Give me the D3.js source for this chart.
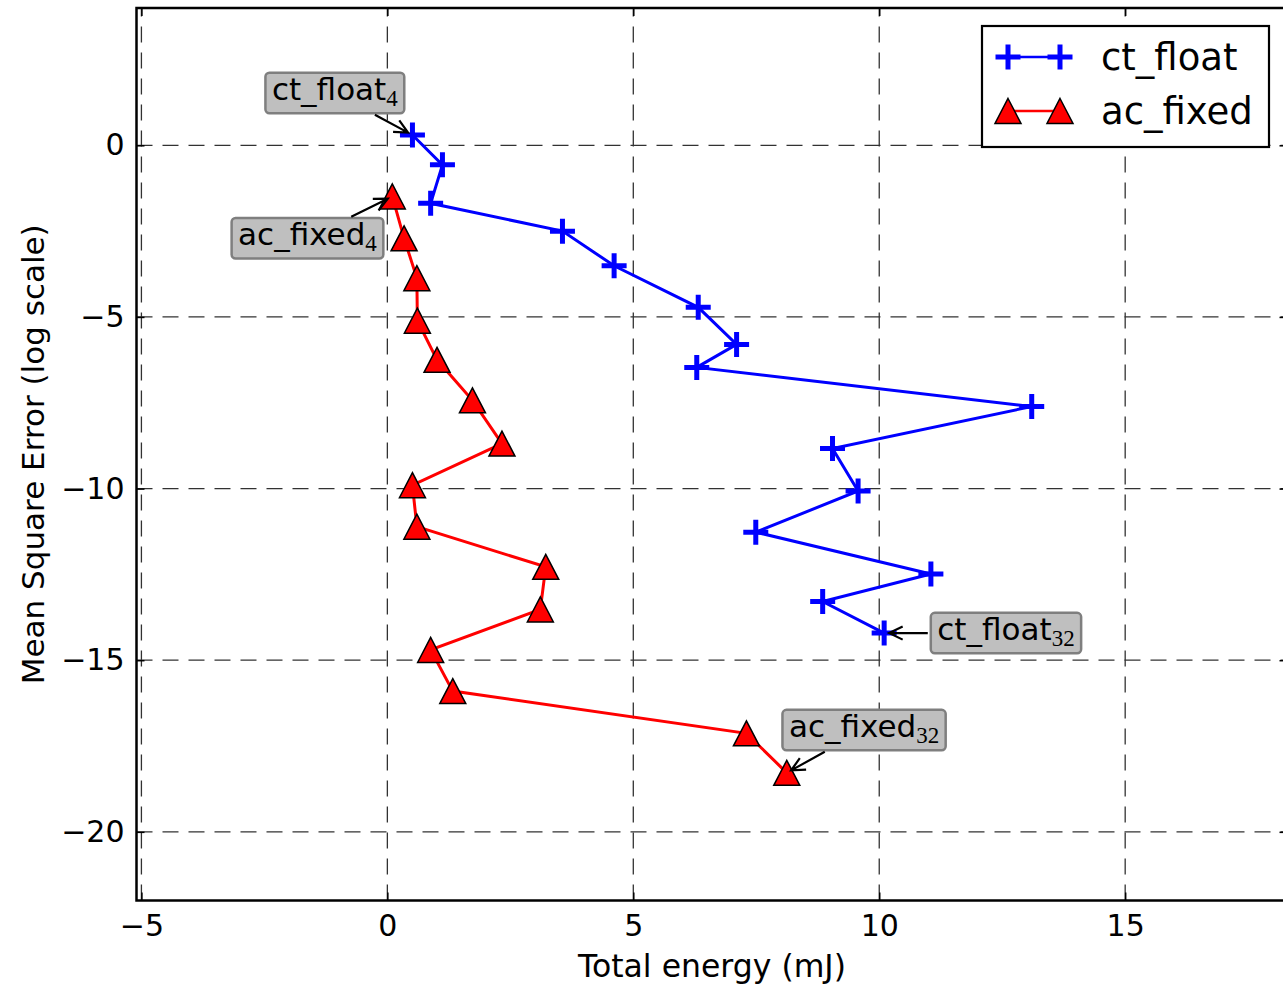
<!DOCTYPE html>
<html><head><meta charset="utf-8">
<script src="https://cdn.jsdelivr.net/npm/d3@7"></script>
<style>
html,body{margin:0;padding:0;background:#fff;}
svg{display:block;}
text{font-family:"DejaVu Sans",sans-serif;fill:#000;}
</style></head><body>
<svg id="chart" width="1283" height="986"></svg>
<script>
// Energy (mJ) versus log10 mean square error, word lengths 4..32
const ctFloatEnergy = [0.51, 1.12, 0.88, 3.56, 4.61, 6.32, 7.10, 6.29, 13.10, 9.05, 9.57, 7.49, 11.05, 8.85, 10.10];
const ctFloatMse    = [0.30, -0.57, -1.69, -2.50, -3.51, -4.72, -5.80, -6.47, -7.61, -8.83, -10.07, -11.27, -12.49, -13.29, -14.21];
const acFixedEnergy = [0.10, 0.34, 0.60, 0.61, 1.01, 1.73, 2.33, 0.51, 0.60, 3.22, 3.11, 0.88, 1.33, 7.30, 8.12];
const acFixedMse    = [-1.49, -2.71, -3.87, -5.11, -6.25, -7.43, -8.69, -9.90, -11.11, -12.28, -13.52, -14.70, -15.90, -17.13, -18.28];
const xTicks = [-5, 0, 5, 10, 15];
const yTicks = [0, -5, -10, -15, -20];
const seriesNames = ["ct_float", "ac_fixed"];
const annotationLabels = [
  {series: 0, index: 0,  name: "ct_float", sub: "4"},
  {series: 1, index: 0,  name: "ac_fixed", sub: "4"},
  {series: 0, index: 14, name: "ct_float", sub: "32"},
  {series: 1, index: 14, name: "ac_fixed", sub: "32"}
];

// layout
const plot = {left: 136.5, right: 1287.5, top: 8, bottom: 900.5};
const labelOffsets = [[-77.6, -42], [-84.8, 41.8], [121.8, 0], [77.3, -42.7]];
const colors = ["#0000ff", "#ff0000"];

const svg = d3.select("#chart");
const x = d3.scaleLinear().domain([-5.1, 18.3]).range([plot.left, plot.right]);
const y = d3.scaleLinear().domain([-22, 4]).range([plot.bottom, plot.top]);

const series = [
  ctFloatEnergy.map((e, i) => ({e, m: ctFloatMse[i]})),
  acFixedEnergy.map((e, i) => ({e, m: acFixedMse[i]}))
];

// grid
const grid = svg.append("g").attr("stroke", "#000").attr("stroke-width", 1.3)
  .attr("stroke-dasharray", "16,10").attr("opacity", 0.8);
grid.selectAll(".gx").data(xTicks).join("line")
  .attr("x1", d => x(d)).attr("x2", d => x(d))
  .attr("y1", plot.bottom).attr("y2", plot.top);
grid.selectAll(".gy").data(yTicks).join("line")
  .attr("y1", d => y(d)).attr("y2", d => y(d))
  .attr("x1", plot.left).attr("x2", plot.right);

// axes with inward ticks
const tickLen = 8;
const axB = svg.append("g").attr("transform", `translate(0,${plot.bottom})`)
  .call(d3.axisBottom(x).tickValues(xTicks).tickSizeInner(-tickLen).tickSizeOuter(0).tickPadding(14));
const axT = svg.append("g").attr("transform", `translate(0,${plot.top})`)
  .call(d3.axisTop(x).tickValues(xTicks).tickSizeInner(-tickLen).tickSizeOuter(0).tickFormat(""));
const axL = svg.append("g").attr("transform", `translate(${plot.left},0)`)
  .call(d3.axisLeft(y).tickValues(yTicks).tickSizeInner(-tickLen).tickSizeOuter(0).tickPadding(12));
const axR = svg.append("g").attr("transform", `translate(${plot.right},0)`)
  .call(d3.axisRight(y).tickValues(yTicks).tickSizeInner(-tickLen).tickSizeOuter(0).tickFormat(""));
[axB, axT, axL, axR].forEach(a => {
  a.select(".domain").remove();
  a.selectAll(".tick line").attr("stroke", "#000").attr("stroke-width", 1.5);
  a.selectAll("text").attr("font-size", 30).attr("font-family", "DejaVu Sans").attr("fill", "#000");
});
axB.selectAll("text").attr("dy", "0.71em");

// frame
svg.append("rect").attr("x", plot.left).attr("y", plot.top)
  .attr("width", plot.right - plot.left).attr("height", plot.bottom - plot.top)
  .attr("fill", "none").attr("stroke", "#000").attr("stroke-width", 2.5);

// axis titles
svg.append("text").attr("x", (plot.left + plot.right) / 2).attr("y", 977)
  .attr("text-anchor", "middle").attr("font-size", 31.5).text("Total energy (mJ)");
svg.append("text").attr("transform", `translate(44,${(plot.top + plot.bottom) / 2}) rotate(-90)`)
  .attr("text-anchor", "middle").attr("font-size", 31).text("Mean Square Error (log scale)");

// data
svg.append("clipPath").attr("id", "clip").append("rect")
  .attr("x", plot.left).attr("y", plot.top)
  .attr("width", plot.right - plot.left).attr("height", plot.bottom - plot.top);
const data = svg.append("g").attr("clip-path", "url(#clip)");
const line = d3.line().x(d => x(d.e)).y(d => y(d.m));
const plusPath = "M-12.5,0H12.5M0,-12.5V12.5";
const triPath = "M0,-12.5L13,12.5L-13,12.5Z";
const plusWidth = 5;

series.forEach((s, k) => {
  data.append("path").datum(s).attr("d", line).attr("fill", "none")
    .attr("stroke", colors[k]).attr("stroke-width", 3);
});
data.selectAll(".plus").data(series[0]).join("path")
  .attr("transform", d => `translate(${x(d.e)},${y(d.m)})`)
  .attr("d", plusPath).attr("stroke", colors[0]).attr("stroke-width", plusWidth).attr("fill", "none");
data.selectAll(".tri").data(series[1]).join("path")
  .attr("transform", d => `translate(${x(d.e)},${y(d.m)})`)
  .attr("d", triPath).attr("fill", colors[1]).attr("stroke", "#000").attr("stroke-width", 1.5)
  .attr("stroke-linejoin", "miter");

// annotations
annotationLabels.forEach((a, i) => {
  const p = series[a.series][a.index];
  const px = x(p.e), py = y(p.m);
  const cx = px + labelOffsets[i][0], cy = py + labelOffsets[i][1];
  const g = svg.append("g");
  const rect = g.append("rect");
  const t = g.append("text").attr("font-size", 31).attr("text-anchor", "middle")
    .attr("x", cx).attr("y", cy + 7);
  t.append("tspan").text(a.name);
  t.append("tspan").attr("font-family", "Liberation Serif, DejaVu Serif, serif").attr("font-size", 23)
    .attr("dy", 6).text(a.sub);
  const w = t.node().getComputedTextLength() + 13, h = 40.5;
  rect.attr("x", cx - w / 2).attr("y", cy - h / 2).attr("width", w).attr("height", h)
    .attr("rx", 4).attr("fill", "#bfbfbf").attr("stroke", "#7f7f7f").attr("stroke-width", 2.5);
  // arrow from box edge to the point
  const dx = px - cx, dy = py - cy;
  const len = Math.hypot(dx, dy), ux = dx / len, uy = dy / len;
  const tEdge = Math.min(dx !== 0 ? (w / 2) / Math.abs(dx) : Infinity, dy !== 0 ? (h / 2) / Math.abs(dy) : Infinity);
  const sx = cx + dx * tEdge + ux * 3, sy = cy + dy * tEdge + uy * 3;
  const ex = px - ux * 5, ey = py - uy * 5;
  const head = 15, ang = 0.45;
  const hx1 = ex - head * (ux * Math.cos(ang) - uy * Math.sin(ang));
  const hy1 = ey - head * (uy * Math.cos(ang) + ux * Math.sin(ang));
  const hx2 = ex - head * (ux * Math.cos(ang) + uy * Math.sin(ang));
  const hy2 = ey - head * (uy * Math.cos(ang) - ux * Math.sin(ang));
  g.append("path")
    .attr("d", `M${sx},${sy}L${ex},${ey}M${hx1},${hy1}L${ex},${ey}L${hx2},${hy2}`)
    .attr("fill", "none").attr("stroke", "#000").attr("stroke-width", 2.2);
});

// legend
const lg = svg.append("g");
lg.append("rect").attr("x", 982).attr("y", 26).attr("width", 287).attr("height", 121)
  .attr("fill", "#fff").attr("stroke", "#000").attr("stroke-width", 2.2);
seriesNames.forEach((name, k) => {
  const ly = 57 + k * 54;
  lg.append("line").attr("x1", 1008).attr("x2", 1060).attr("y1", ly).attr("y2", ly)
    .attr("stroke", colors[k]).attr("stroke-width", 2.5);
  [1008, 1060].forEach(mx => {
    lg.append("path").attr("transform", `translate(${mx},${ly})`)
      .attr("d", k === 0 ? plusPath : triPath)
      .attr("fill", k === 0 ? "none" : colors[k])
      .attr("stroke", k === 0 ? colors[k] : "#000")
      .attr("stroke-width", k === 0 ? plusWidth : 1.5);
  });
  lg.append("text").attr("x", 1101).attr("y", ly).attr("dy", "0.36em")
    .attr("font-size", 37).text(name);
});
</script>
</body></html>
